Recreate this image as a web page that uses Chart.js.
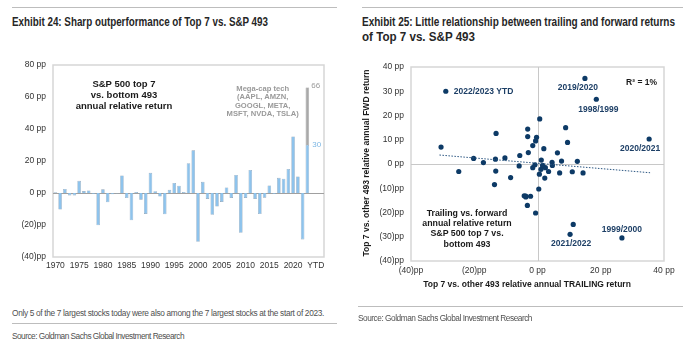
<!DOCTYPE html>
<html><head><meta charset="utf-8">
<script src="https://cdn.jsdelivr.net/npm/chart.js@4/dist/chart.umd.min.js"></script>
<style>
body{margin:0;background:#fff;width:700px;height:350px;position:relative;overflow:hidden;font-family:"Liberation Sans",Arial,sans-serif;}
.abs{position:absolute;white-space:nowrap;}
.rule{position:absolute;height:1px;background:#bdbdbd;}
.title{font-family:"Liberation Sans",Arial,sans-serif;font-weight:bold;font-size:12px;line-height:14px;color:#262626;transform-origin:0 50%;}
.note{font-family:"Liberation Sans",Arial,sans-serif;font-size:8.3px;line-height:11px;color:#505050;}
.ann{font-weight:bold;text-align:center;}
canvas{position:absolute;}
</style></head><body>
<div class="rule" style="left:12px;top:7px;width:325px"></div>
<div class="rule" style="left:362px;top:7px;width:321px"></div>
<div class="abs title fit" data-w="256" style="left:12px;top:15px">Exhibit 24: Sharp outperformance of Top 7 vs. S&amp;P 493</div>
<div class="abs title fit" data-w="313" style="left:362px;top:15px">Exhibit 25: Little relationship between trailing and forward returns</div>
<div class="abs title fit" data-w="113" style="left:362px;top:29.5px">of Top 7 vs. S&amp;P 493</div>

<canvas id="left" width="345" height="230" style="left:0;top:50px;width:345px;height:230px"></canvas>
<canvas id="right" width="345" height="245" style="left:350px;top:50px;width:345px;height:245px"></canvas>

<div class="abs ann" style="left:44px;width:160px;top:77.7px;font-size:9.5px;line-height:11.3px;color:#1a1a1a">S&amp;P 500 top 7<br>vs. bottom 493<br>annual relative return</div>
<div class="abs ann" style="left:212.7px;width:100px;top:84.8px;font-size:7.6px;line-height:8.45px;color:#9a9a9a">Mega-cap tech<br>(AAPL, AMZN,<br>GOOGL, META,<br>MSFT, NVDA, TSLA)</div>

<div class="abs ann" style="left:397px;width:140px;top:207.8px;font-size:8.8px;line-height:10.3px;color:#1a1a1a">Trailing vs. forward<br>annual relative return<br>S&amp;P 500 top 7 vs.<br>bottom 493</div>
<div class="abs ann" style="left:597px;width:60px;text-align:right;top:77px;font-size:8.5px;line-height:10px;color:#1a1a1a">R² = 1%</div>
<div class="abs ann" style="left:407px;width:240px;top:279px;font-size:8.5px;line-height:10px;color:#1a1a1a">Top 7 vs. other 493 relative annual TRAILING return</div>
<div class="abs ann" style="left:256px;width:220px;top:158px;font-size:8.5px;line-height:10px;color:#1a1a1a;transform:rotate(-90deg);transform-origin:110px 5px;">Top 7 vs. other 493 relative annual FWD return</div>

<div class="abs note ls" data-w="312" style="left:12px;top:307.5px">Only 5 of the 7 largest stocks today were also among the 7 largest stocks at the start of 2023.</div>
<div class="rule" style="left:12px;top:323px;width:325px"></div>
<div class="abs note ls" data-w="172" style="left:12px;top:330.5px">Source: Goldman Sachs Global Investment Research</div>
<div class="rule" style="left:358px;top:306px;width:325px"></div>
<div class="abs note ls" data-w="174" style="left:358px;top:312.5px">Source: Goldman Sachs Global Investment Research</div>

<script>
// fit condensed headings to their measured widths
document.querySelectorAll('.fit').forEach(el => {
  const w = el.getBoundingClientRect().width;
  const target = Number(el.dataset.w);
  if (w > 0) el.style.transform = 'scaleX(' + (target / w) + ')';
});
// fit small notes with letter spacing (keeps crisp text)
document.querySelectorAll('.ls').forEach(el => {
  const w = el.getBoundingClientRect().width;
  const target = Number(el.dataset.w);
  const n = el.textContent.length;
  if (w > 0) el.style.letterSpacing = ((target - w) / n) + 'px';
});

// ---------- data ----------
const categories = ['1970','1971','1972','1973','1974','1975','1976','1977','1978','1979',
  '1980','1981','1982','1983','1984','1985','1986','1987','1988','1989',
  '1990','1991','1992','1993','1994','1995','1996','1997','1998','1999',
  '2000','2001','2002','2003','2004','2005','2006','2007','2008','2009',
  '2010','2011','2012','2013','2014','2015','2016','2017','2018','2019',
  '2020','2021','2022','YTD'];
// S&P 500 top 7 vs bottom 493 annual relative return (pp)
const top7Relative = [0.4,-10.3,2.5,-1.5,-1.5,7.6,1.2,1.6,-0.6,-20.2,
  2.3,-5.8,-0.8,-0.3,11.0,-3.2,-17.1,0.6,-4.2,-13.1,
  12.6,1.1,-2.2,-13.3,2.0,6.3,4.6,0.7,18.6,26.7,
  -30.5,7.0,-3.7,-13.6,-8.5,-5.6,3.5,-3.1,11.3,-24.9,
  -3.1,14.4,-3.7,-13.2,-2.9,4.7,-0.6,9.5,8.9,15.0,
  35.3,10.3,-29.0,30.0];
const megaCapTechYTD = 66;
const leftYTicks = [-40,-20,0,20,40,60,80];
const rightXTicks = [-40,-20,0,20,40];
const rightYTicks = [-40,-30,-20,-10,0,10,20,30,40];
// dotted trend line end points (trailing, forward)
const trendX = [-31.0, 35.6];
const trendY = [3.7, -3.6];
// labelled scatter pairs (by forward-year category)
const labelledPairs = ['YTD','2020','1999','2021','2000','2022'];
const labelledText = ['2022/2023 YTD','2019/2020','1998/1999','2020/2021','1999/2000','2021/2022'];

// ---------- helpers ----------
const FONT = '"Liberation Sans", Arial, sans-serif';
const ppFmt = v => v < 0 ? '(' + Math.abs(v) + ')pp' : v + ' pp';
const extraSlots = 3;
const xCats = categories.concat(Array(extraSlots).fill(''));
const top7Data = top7Relative.concat(Array(extraSlots).fill(null));
const megaData = xCats.map((c, i) => i === categories.length - 1 ? megaCapTechYTD - top7Relative[i] : null);

// ---------- left chart ----------
const leftDecor = {
  id: 'leftDecor',
  beforeDatasetsDraw(chart) {
    const {ctx, chartArea: a, scales: {y}} = chart;
    ctx.save();
    ctx.strokeStyle = '#d6d6d6'; ctx.lineWidth = 1.5;
    ctx.strokeRect(a.left, a.top, a.right - a.left, a.bottom - a.top);
    const y0 = Math.round(y.getPixelForValue(0)) + 0.5;
    ctx.strokeStyle = '#a0a0a0'; ctx.lineWidth = 1;
    ctx.beginPath(); ctx.moveTo(a.left, y0); ctx.lineTo(a.right, y0); ctx.stroke();
    ctx.restore();
  },
  afterDatasetsDraw(chart) {
    const {ctx, chartArea: a, scales: {x, y}} = chart;
    const last = categories.length - 1;
    const xi = x.getPixelForValue(last);
    ctx.save();
    ctx.font = '8px ' + FONT; ctx.textAlign = 'left'; ctx.textBaseline = 'middle';
    ctx.fillStyle = '#9b9b9b';
    ctx.fillText(String(megaCapTechYTD), xi + 4, y.getPixelForValue(megaCapTechYTD) - 2);
    ctx.fillStyle = '#7db7e4';
    ctx.fillText(String(top7Relative[last]), xi + 5, y.getPixelForValue(top7Relative[last]));
    ctx.fillStyle = '#333'; ctx.font = '8.5px ' + FONT; ctx.textAlign = 'center'; ctx.textBaseline = 'top';
    ctx.fillText('YTD', xi + 8.5, a.bottom + 4);
    ctx.restore();
  }
};

new Chart(document.getElementById('left'), {
  type: 'bar',
  data: {
    labels: xCats,
    datasets: [
      {data: top7Data, backgroundColor: '#8ec3ec', borderColor: '#8aa2b8', borderWidth: 0.6,
       barPercentage: 0.75, categoryPercentage: 1},
      {data: megaData, backgroundColor: '#a9a9a9', borderColor: '#999', borderWidth: 0.6,
       barPercentage: 0.75, categoryPercentage: 1}
    ]
  },
  options: {
    responsive: false, animation: false,
    layout: {padding: {top: 15, right: 21, left: 0, bottom: 0}},
    plugins: {legend: {display: false}, tooltip: {enabled: false}},
    scales: {
      x: {
        stacked: true,
        grid: {display: false, drawTicks: false}, border: {display: false},
        ticks: {autoSkip: false, maxRotation: 0, minRotation: 0, padding: 4,
          color: '#333', font: {family: FONT, size: 8.5},
          callback: (v, i) => {
            const c = xCats[i];
            return (c !== '' && c !== 'YTD' && Number(c) % 5 === 0) ? c : '';
          }},
        afterFit: s => { s.height = 23; }
      },
      y: {
        stacked: true, min: -40, max: 80,
        afterBuildTicks: s => { s.ticks = leftYTicks.map(v => ({value: v})); },
        grid: {display: false, drawTicks: false}, border: {display: false},
        ticks: {padding: 7, color: '#333', font: {family: FONT, size: 8.5}, callback: v => ppFmt(v)},
        afterFit: s => { s.width = 53; }
      }
    }
  },
  plugins: [leftDecor]
});

// ---------- right chart ----------
const pairs = [];
for (let i = 1; i < categories.length; i++) {
  pairs.push({x: top7Relative[i - 1], y: top7Relative[i]});
}

const rightDecor = {
  id: 'rightDecor',
  beforeDatasetsDraw(chart) {
    const {ctx, chartArea: a, scales: {x, y}} = chart;
    ctx.save();
    ctx.strokeStyle = '#d6d6d6'; ctx.lineWidth = 1.5;
    ctx.strokeRect(a.left, a.top, a.right - a.left, a.bottom - a.top);
    ctx.strokeStyle = '#c8c8c8'; ctx.lineWidth = 1;
    const x0 = Math.round(x.getPixelForValue(0)) + 0.5;
    const y0 = Math.round(y.getPixelForValue(0)) + 0.5;
    ctx.beginPath();
    ctx.moveTo(x0, a.top); ctx.lineTo(x0, a.bottom);
    ctx.moveTo(a.left, y0); ctx.lineTo(a.right, y0);
    ctx.stroke();
    ctx.restore();
  },
  afterDatasetsDraw(chart) {
    const {ctx, scales: {x, y}} = chart;
    const offs = [[8, 0, 'left'], [-7, 9, 'center'], [2, 10, 'center'], [-9, 9.5, 'center'], [0, -8.5, 'center'], [1, 9.5, 'center']];
    ctx.save();
    ctx.font = 'bold 8.5px ' + FONT; ctx.fillStyle = '#1d3f66'; ctx.textBaseline = 'middle';
    labelledPairs.forEach((cat, k) => {
      const i = categories.indexOf(cat);
      const px = x.getPixelForValue(top7Relative[i - 1]);
      const py = y.getPixelForValue(top7Relative[i]);
      const [dx, dy, al] = offs[k];
      ctx.textAlign = al;
      ctx.fillText(labelledText[k], px + dx, py + dy);
    });
    ctx.restore();
  }
};

new Chart(document.getElementById('right'), {
  type: 'scatter',
  data: {
    datasets: [
      {type: 'line', data: trendX.map((v, i) => ({x: v, y: trendY[i]})), borderColor: '#2a5580',
       borderWidth: 1, borderDash: [1.5, 1.5], pointRadius: 0, fill: false},
      {data: pairs, backgroundColor: '#0d3a66', borderColor: '#0d3a66', pointRadius: 2.6, borderWidth: 0}
    ]
  },
  options: {
    responsive: false, animation: false,
    layout: {padding: {top: 17, right: 31, left: 0, bottom: 0}},
    plugins: {legend: {display: false}, tooltip: {enabled: false}},
    scales: {
      x: {
        type: 'linear', min: -40, max: 40,
        afterBuildTicks: s => { s.ticks = rightXTicks.map(v => ({value: v})); },
        grid: {display: false, drawTicks: false}, border: {display: false},
        ticks: {padding: 5, color: '#333', font: {family: FONT, size: 8.5}, callback: v => ppFmt(v)},
        afterFit: s => { s.height = 34; }
      },
      y: {
        type: 'linear', min: -40, max: 40,
        afterBuildTicks: s => { s.ticks = rightYTicks.map(v => ({value: v})); },
        grid: {display: false, drawTicks: false}, border: {display: false},
        ticks: {padding: 7, color: '#333', font: {family: FONT, size: 8.5}, callback: v => ppFmt(v)},
        afterFit: s => { s.width = 61; }
      }
    }
  },
  plugins: [rightDecor]
});
</script>
</body></html>
